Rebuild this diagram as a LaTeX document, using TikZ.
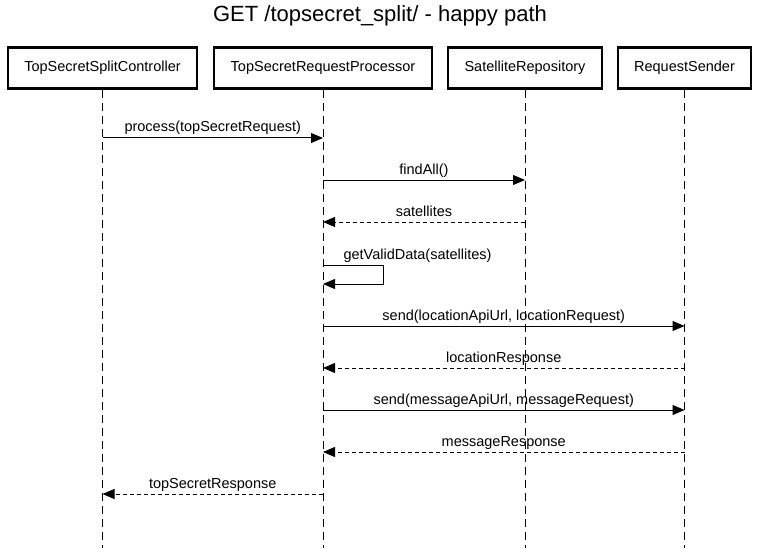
\documentclass[tikz,border=0pt]{standalone}
\usepackage{fontspec}
\setmainfont{Liberation Sans}
\usetikzlibrary{arrows.meta}

\begin{document}
\begin{tikzpicture}[x=1pt,y=-1pt,line width=1pt,
  actor/.style={draw,line width=2.2pt,minimum height=41pt,inner sep=0pt,
    font=\fontsize{14.5}{17}\selectfont},
  life/.style={dash pattern=on 8pt off 5pt},
  call/.style={-{Triangle[length=12pt,width=10pt]}},
  reply/.style={call,dash pattern=on 4pt off 3pt},
  lbl/.style={font=\fontsize{14.5}{17}\selectfont,inner sep=0pt,anchor=base,yshift=6pt}]
\useasboundingbox (0,0) rectangle (759,548);
\node[font=\fontsize{22}{26}\selectfont] (title) at (380,16) {GET /topsecret\_split/ - happy path};
% participants
\node[actor,minimum width=189pt] (ctrl)   at (102.5,68) {TopSecretSplitController};
\node[actor,minimum width=218pt] (proc)   at (323,68)   {TopSecretRequestProcessor};
\node[actor,minimum width=154pt] (repo)   at (525,68)   {SatelliteRepository};
\node[actor,minimum width=133pt] (sender) at (684.5,68) {RequestSender};
% lifelines down to the page edge
\foreach \p in {ctrl,proc,repo,sender} {
  \coordinate (\p End) at (\p.south |- 0,548);
  \draw[life] (\p.south) -- (\p End);
}
% calls, solid; answers, dashed
\draw[call] (ctrl.south |- 0,138) -- node[lbl] {process(topSecretRequest)} (proc.south |- 0,138);
\draw[call] (proc.south |- 0,180) -- node[lbl] {findAll()} (repo.south |- 0,180);
\draw[reply] (repo.south |- 0,222) -- node[lbl] {satellites} (proc.south |- 0,222);
% self call
\coordinate (selfA) at (proc.south |- 0,265);
\coordinate (selfB) at (proc.south |- 0,284);
\draw[call] (selfA) -- ++(60,0) -- ++(0,19) -- (selfB);
\node[lbl,anchor=base west] at ([xshift=20pt]selfA) {getValidData(satellites)};
\draw[call] (proc.south |- 0,326) -- node[lbl] {send(locationApiUrl, locationRequest)} (sender.south |- 0,326);
\draw[reply] (sender.south |- 0,368) -- node[lbl] {locationResponse} (proc.south |- 0,368);
\draw[call] (proc.south |- 0,410) -- node[lbl] {send(messageApiUrl, messageRequest)} (sender.south |- 0,410);
\draw[reply] (sender.south |- 0,452) -- node[lbl] {messageResponse} (proc.south |- 0,452);
\draw[reply] (proc.south |- 0,494) -- node[lbl] {topSecretResponse} (ctrl.south |- 0,494);
\end{tikzpicture}
\end{document}
